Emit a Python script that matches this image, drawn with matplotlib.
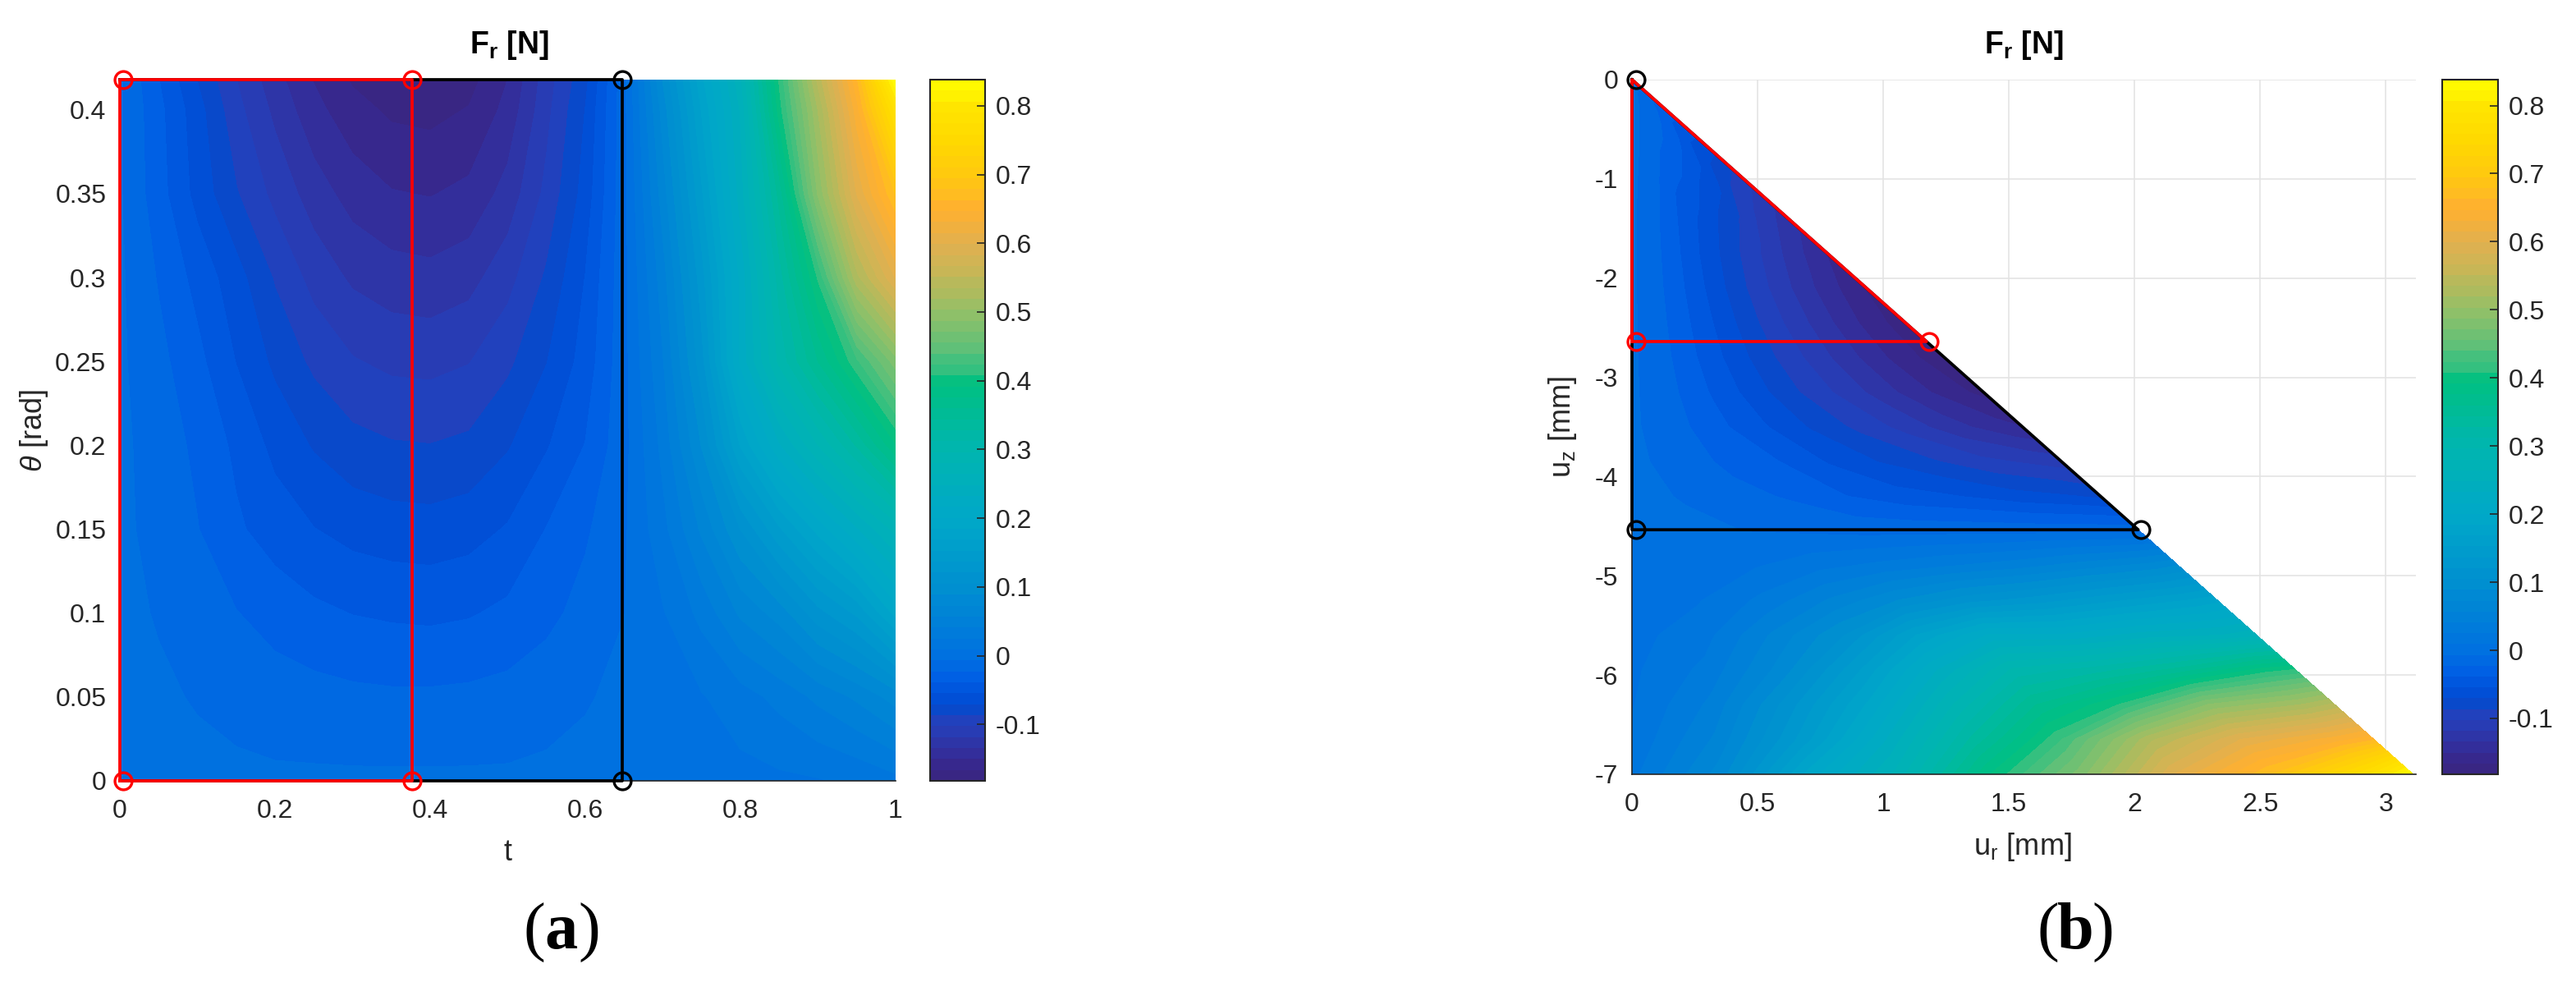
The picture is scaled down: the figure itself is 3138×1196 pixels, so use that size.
import numpy as np
import matplotlib
matplotlib.use("Agg")
import matplotlib.pyplot as plt
from matplotlib.colors import LinearSegmentedColormap

plt.rcParams["font.family"] = ["Liberation Sans", "DejaVu Sans"]
plt.rcParams["mathtext.fontset"] = "custom"
plt.rcParams["mathtext.rm"] = "Liberation Sans"
plt.rcParams["mathtext.it"] = "Liberation Sans:italic"
plt.rcParams["mathtext.bf"] = "Liberation Sans:bold"
plt.rcParams["mathtext.default"] = "regular"

# grid, same force field is shown in both panels
t_vals = [0, .05, .1, .15, .2, .25, .3, .35, .4, .45, .5, .55, .6, .65, .7, .75, .8, .85, .9, .95, 1]
theta_vals = [0, .05, .1, .15, .2, .25, .3, .35, .4, .418]
Fr = [
    [0, -.001, -.002, -.003, -.004, -.004, -.004, -.004, -.004, -.004, -.004, -.003, -.002, -.001, 0, .002, .004, .006, .008, .012, .02],
    [-.001, -.004, -.008, -.012, -.015, -.017, -.019, -.02, -.02, -.019, -.017, -.013, -.008, -.003, .002, .008, .018, .03, .045, .06, .08],
    [-.002, -.008, -.015, -.022, -.029, -.035, -.039, -.041, -.042, -.04, -.035, -.027, -.017, -.007, .008, .03, .06, .08, .115, .14, .19],
    [-.003, -.012, -.022, -.036, -.046, -.054, -.06, -.063, -.064, -.061, -.053, -.038, -.025, -.009, .02, .06, .105, .15, .19, .23, .27],
    [-.003, -.014, -.026, -.042, -.059, -.072, -.081, -.085, -.086, -.083, -.072, -.056, -.038, -.012, .03, .09, .17, .23, .28, .33, .39],
    [-.004, -.018, -.034, -.055, -.074, -.09, -.101, -.106, -.107, -.103, -.09, -.071, -.048, -.012, .04, .115, .22, .3, .36, .42, .48],
    [-.004, -.024, -.044, -.064, -.088, -.108, -.121, -.127, -.129, -.124, -.108, -.084, -.054, -.012, .05, .13, .22, .32, .41, .53, .6],
    [-.005, -.032, -.06, -.085, -.107, -.126, -.141, -.149, -.151, -.146, -.128, -.098, -.064, -.012, .065, .15, .24, .35, .49, .6, .68],
    [-.005, -.034, -.064, -.097, -.122, -.145, -.16, -.169, -.171, -.165, -.145, -.107, -.07, -.012, .08, .17, .25, .4, .52, .64, .78],
    [-.005, -.038, -.071, -.102, -.128, -.151, -.168, -.176, -.179, -.172, -.15, -.11, -.075, -.012, .09, .18, .26, .41, .54, .66, .84],
]

t_red, t_black = 0.377, 0.648
theta_max = 0.418
uz_max = 7.0

cb_vals = [-.182, -.15, -.12, -.10, -.08, -.06, -.03, 0, .05, .1, .2, .3, .35, .4, .415, .45, .5, .55, .6, .65, .7, .75, .8, .838]
cb_cols = ["#3a2580", "#352a95", "#2c38ac", "#2440bc", "#0a48c8", "#0050d8", "#0060e4", "#0070e0",
           "#0080d8", "#0090d0", "#00a8c8", "#00b5b0", "#00bb98", "#00c080", "#30c080", "#60c078",
           "#90c068", "#c0b858", "#e0b050", "#ffb030", "#ffc810", "#ffd800", "#ffe400", "#ffff00"]
cb_ticks = [-.1, 0, .1, .2, .3, .4, .5, .6, .7, .8]
cb_labels = ["-0.1", "0", "0.1", "0.2", "0.3", "0.4", "0.5", "0.6", "0.7", "0.8"]

W, H = 3138, 1196
TXT = "#262626"
FS = 23
LABEL_FS = 26
TITLE_FS = 27


def px_axes(fig, x0, x1, y0, y1):
    return fig.add_axes([x0 / W, 1 - y1 / H, (x1 - x0) / W, (y1 - y0) / H])


def style(ax):
    for s in ["top", "right"]:
        ax.spines[s].set_visible(False)
    for s in ["left", "bottom"]:
        ax.spines[s].set_color(TXT)
        ax.spines[s].set_linewidth(1.2)
        ax.spines[s].set_zorder(1.5)
    ax.tick_params(length=0, labelsize=FS, labelcolor=TXT)
    ax.tick_params(axis="x", pad=16)
    ax.tick_params(axis="y", pad=12)


def colorbar(fig, cf, x0, x1, y0, y1):
    cax = px_axes(fig, x0, x1, y0, y1)
    cb = fig.colorbar(cf, cax=cax)
    cb.set_ticks(cb_ticks, labels=cb_labels)
    cax.tick_params(direction="in", length=7, width=1.2, color=TXT, labelsize=FS, labelcolor=TXT, pad=9)
    cb.outline.set_edgecolor(TXT)
    cb.outline.set_linewidth(1.5)
    cb.minorticks_off()


def panel_label(fig, cx, letter):
    y = 1 - 1136 / H
    half = 20 / W
    kw = dict(family="Liberation Serif", fontsize=58, va="center", color="black")
    fig.text(cx / W - half, y, "(", ha="right", **kw)
    fig.text(cx / W, y, letter, ha="center", fontweight="bold", **kw)
    fig.text(cx / W + half, y, ")", ha="left", **kw)


T, TH = np.meshgrid(t_vals, theta_vals)
F = np.array(Fr)
levels = np.linspace(-.182, .838, 65)
cmap = LinearSegmentedColormap.from_list(
    "fr", [((v - cb_vals[0]) / (cb_vals[-1] - cb_vals[0]), c) for v, c in zip(cb_vals, cb_cols)], N=256)

fig = plt.figure(figsize=(W / 100, H / 100), dpi=100)
RED, BLK = "#ff0000", "#000000"
LW = 2.7
mk = dict(marker="o", ms=15, mfc="none", mew=2.4, ls="none", clip_on=False, zorder=6)

# (a) t - theta
ax = px_axes(fig, 146, 1091, 97, 951)
cf = ax.contourf(T, TH, F, levels=levels, cmap=cmap, vmin=-.182, vmax=.838, zorder=1)
ax.plot([0, t_black, t_black, 0], [0, 0, theta_max, theta_max], color=BLK, lw=LW, clip_on=False, zorder=4)
ax.plot([t_black, t_black], [0, theta_max], color=BLK, **mk)
ax.plot([0, t_red, t_red, 0, 0], [0, 0, theta_max, theta_max, 0], color=RED, lw=LW, clip_on=False, zorder=5)
ax.plot([0.004, t_red, t_red, 0.004], [0, 0, theta_max, theta_max], color=RED, **mk)
ax.set_xlim(0, 1)
ax.set_ylim(0, theta_max)
ax.set_xticks([0, .2, .4, .6, .8, 1], ["0", "0.2", "0.4", "0.6", "0.8", "1"])
ax.set_yticks([0, .05, .1, .15, .2, .25, .3, .35, .4], ["0", "0.05", "0.1", "0.15", "0.2", "0.25", "0.3", "0.35", "0.4"])
style(ax)
ax.set_xlabel("t", fontsize=LABEL_FS, color=TXT)
ax.xaxis.set_label_coords(0.5, -0.102)
ax.xaxis.label.set_va("center")
ax.set_ylabel(r"$\mathit{\theta}$ [rad]", fontsize=LABEL_FS, color=TXT)
ax.yaxis.set_label_coords(-0.111, 0.5)
ax.yaxis.label.set_va("center")
fig.text(620 / W, 1 - 55 / H, r"$\mathbf{F_r\ [N]}$", fontsize=TITLE_FS, ha="center", va="center", color="black")
colorbar(fig, cf, 1133, 1200, 97, 951)
panel_label(fig, 684, "a")

# (b) same field in u_r - u_z
ur_red = uz_max * t_red * np.tan(theta_max)
ur_black = uz_max * t_black * np.tan(theta_max)
uz_red = -uz_max * t_red
uz_black = -uz_max * t_black

ax = px_axes(fig, 1988, 2943, 97, 943)
cf = ax.contourf(uz_max * T * np.tan(TH), -uz_max * T, F, levels=levels, cmap=cmap, vmin=-.182, vmax=.838, zorder=1)
ax.grid(True, color="#e4e4e4", lw=1.2, zorder=0)
ax.set_axisbelow(True)
ax.plot([0, 0, ur_black, 0], [0, uz_black, uz_black, 0], color=BLK, lw=LW, clip_on=False, zorder=4)
ax.plot([0, ur_red, 0, 0], [uz_red, uz_red, 0, uz_red], color=RED, lw=LW, clip_on=False, zorder=5)
ax.plot([0.015, ur_red + .01], [uz_red, uz_red], color=RED, **mk)
ax.plot([0.015, 0.015, ur_black + .01], [0, uz_black, uz_black], color=BLK, **mk)
ax.set_xlim(0, 3.12)
ax.set_ylim(-7, 0)
ax.set_xticks([0, .5, 1, 1.5, 2, 2.5, 3], ["0", "0.5", "1", "1.5", "2", "2.5", "3"])
ax.set_yticks(range(-7, 1), ["-7", "-6", "-5", "-4", "-3", "-2", "-1", "0"])
style(ax)
ax.set_xlabel(r"u$_{r}$ [mm]", fontsize=LABEL_FS, color=TXT)
ax.xaxis.set_label_coords(0.498, -0.105)
ax.xaxis.label.set_va("center")
ax.set_ylabel(r"u$_{z}$ [mm]", fontsize=LABEL_FS, color=TXT)
ax.yaxis.set_label_coords(-0.088, 0.5)
ax.yaxis.label.set_va("center")
fig.text(2465 / W, 1 - 55 / H, r"$\mathbf{F_r\ [N]}$", fontsize=TITLE_FS, ha="center", va="center", color="black")
colorbar(fig, cf, 2975, 3043, 97, 943)
panel_label(fig, 2528, "b")

fig.savefig("out.png", dpi=100)
